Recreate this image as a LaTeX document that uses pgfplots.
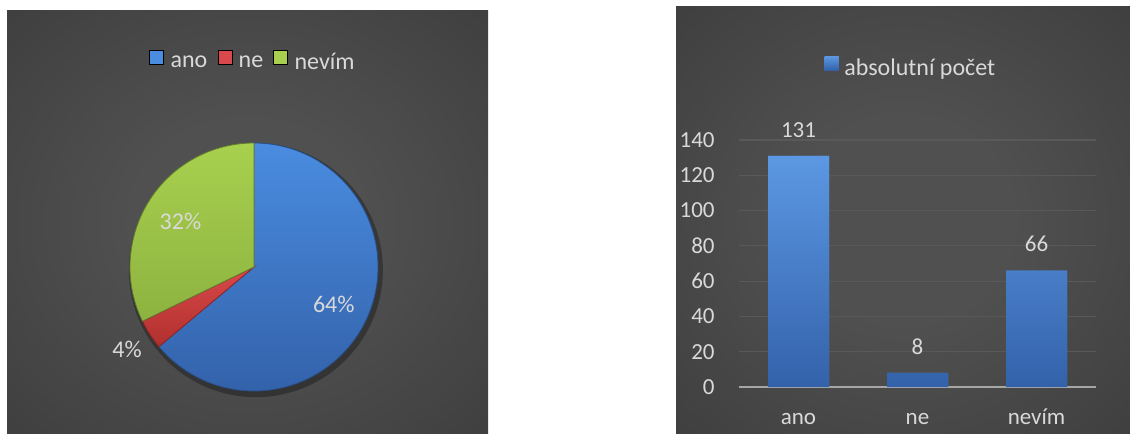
\documentclass[border=0pt]{standalone}
\usepackage{pgfplots}
\usepackage{pgfplotstable}
\pgfplotsset{compat=1.18}
\usepackage{fontspec}
\setmainfont{Carlito}
\newcommand\lbl{\fontsize{11.5bp}{13bp}\selectfont}
\newcommand\lgd{\fontsize{12bp}{14bp}\selectfont}
\definecolor{bgin}{HTML}{505050}
\definecolor{bgout}{HTML}{262626}
\definecolor{txt}{HTML}{D9D9D9}
\definecolor{blueT}{HTML}{4A8CE0}
\definecolor{blueB}{HTML}{3362AA}
\definecolor{redT}{HTML}{D9484A}
\definecolor{redB}{HTML}{B0302E}
\definecolor{greenT}{HTML}{A8D04E}
\definecolor{greenB}{HTML}{8DB340}
\definecolor{gridc}{HTML}{595959}
\definecolor{axisc}{HTML}{A6A6A6}
\pgfdeclareradialshading{panelbg}{\pgfpoint{0bp}{0bp}}{color(0bp)=(bgin); color(12bp)=(bgin); color(71bp)=(bgout); color(80bp)=(bgout)}

\pgfplotstableread{
idx value
0 131
1 8
2 66
}\piedata

\begin{document}
\begin{tikzpicture}
\fill[white] (0,0) rectangle (565bp,217bp);
\shade[shading=panelbg] (3.5bp,0.5bp) rectangle (244bp,211.5bp);
\shade[shading=panelbg] (338bp,0.5bp) rectangle (565bp,213.5bp);

\pgfplotstablegetelem{0}{value}\of\piedata \let\va\pgfplotsretval
\pgfplotstablegetelem{1}{value}\of\piedata \let\vb\pgfplotsretval
\pgfplotstablegetelem{2}{value}\of\piedata \let\vc\pgfplotsretval
\pgfmathsetmacro\tot{\va+\vb+\vc}
\pgfmathsetmacro\aA{90-360*(\va/\tot)}
\pgfmathsetmacro\aB{\aA-360*(\vb/\tot)}
\pgfmathsetmacro\mA{(90+\aA)/2}
\pgfmathsetmacro\mB{(\aA+\aB)/2}
\pgfmathsetmacro\mC{(\aB+90-360)/2}

% ---------- pie ----------
\begin{axis}[
  at={(127bp,83.5bp)}, anchor=center,
  scale only axis, width=124bp, height=124bp,
  xmin=-1, xmax=1, ymin=-1, ymax=1,
  hide axis, clip=false,
  legend columns=-1,
  legend style={at={(0.5,1.322)}, anchor=center, draw=none, fill=none,
    text=txt, font=\lgd, inner sep=0pt,
    /tikz/every odd column/.append style={column sep=1.2bp},
    /tikz/every even column/.append style={column sep=3.1bp}},
  legend image code/.code={\fill[#1] (0bp,-0.5bp) rectangle (7bp,6.5bp);},
]
\addlegendimage{fill=blueT}
\addlegendentry{ano}
\addlegendimage{fill=redT}
\addlegendentry{ne}
\addlegendimage{fill=greenT}
\addlegendentry{nevím}
\fill[black, opacity=0.3] (axis cs:0.015,-0.025) circle[radius=63.5bp];
\shade[top color=blueT, bottom color=blueB, draw=blueB!80!black, line width=0.4bp]
  (axis cs:0,0) -- (axis cs:0,1) arc[start angle=90, end angle=\aA, radius=62bp] -- cycle;
\shade[top color=redT, bottom color=redB, draw=redB!80!black, line width=0.4bp]
  (axis cs:0,0) -- (axis cs:{cos(\aA)},{sin(\aA)}) arc[start angle=\aA, end angle=\aB, radius=62bp] -- cycle;
\shade[top color=greenT, bottom color=greenB, draw=greenB!70!black, line width=0.4bp]
  (axis cs:0,0) -- (axis cs:{cos(\aB)},{sin(\aB)}) arc[start angle=\aB, end angle=-270, radius=62bp] -- cycle;
\node[font=\lgd, text=txt] at (axis cs:{0.71*cos(\mA)},{0.71*sin(\mA)}) {64\%};
\node[font=\lgd, text=txt] at (axis cs:{1.22*cos(\mB)},{1.22*sin(\mB)}) {4\%};
\node[font=\lgd, text=txt] at (axis cs:{0.70*cos(\mC)},{0.70*sin(\mC)}) {32\%};
\end{axis}

% ---------- bars ----------
\begin{axis}[
  at={(369.5bp,23.5bp)}, anchor=south west,
  scale only axis, width=178.5bp, height=123.5bp,
  xmin=-0.5, xmax=2.5, ymin=0, ymax=140,
  ytick={0,20,...,140},
  xtick=data, xticklabels={ano,ne,nevím},
  ymajorgrids, grid style={draw=gridc, line width=0.6bp},
  axis x line*=bottom, axis y line*=left,
  x axis line style={draw=axisc, line width=1.1bp, -},
  y axis line style={draw=none},
  major tick length=0pt, tick style={draw=none},
  ticklabel style={font=\lbl, text=txt},
  /pgf/number format/assume math mode=true,
  yticklabel style={anchor=east, inner sep=0pt, xshift=-12bp},
  xticklabel style={anchor=base, inner sep=0pt, yshift=-18.5bp},
  clip=false,
  ybar, bar width=30.5bp,
  nodes near coords,
  every node near coord/.append style={font=\lbl, text=txt, anchor=base, inner sep=0pt, yshift=9.4bp},
  legend style={at={(0.4846,1.287)}, anchor=center, draw=none, fill=none,
    text=txt, font=\lgd, inner sep=0pt,
    /tikz/every odd column/.append style={column sep=0.8bp}},
  legend image code/.code={\fill[fill=blueT] (0bp,-0.5bp) rectangle (7bp,6.5bp);},
]
\addplot[draw=none, fill=blueT, top color=blueT!90!white, bottom color=blueB] table[x=idx, y=value] {\piedata};
\addlegendentry{absolutní počet}
\end{axis}

\pgfresetboundingbox
\useasboundingbox (0,0) rectangle (565bp,217bp);
\end{tikzpicture}
\end{document}
